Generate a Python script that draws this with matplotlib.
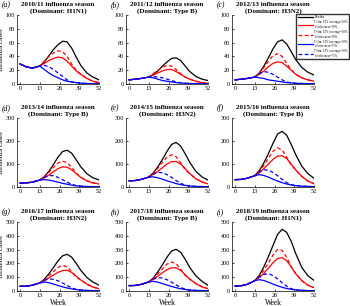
import matplotlib.pyplot as plt

plt.rcParams['font.family'] = ['Liberation Serif', 'DejaVu Serif']

weeks = [0, 4, 8, 13, 16, 19, 22, 25, 28, 31, 34, 37, 40, 44, 48, 52]

seasons = ["2010/11", "2011/12", "2012/13",
           "2013/14", "2014/15", "2015/16",
           "2016/17", "2017/18", "2018/19"]
dominants = ["H1N1", "Type B", "H3N2",
             "Type B", "H3N2", "Type B",
             "H3N2", "Type B", "H1N1"]
tags = ["(a)", "(b)", "(c)", "(d)", "(e)", "(f)", "(g)", "(h)", "(i)"]
row_ymax = [100, 300, 500]
row_ticks = [[0, 20, 40, 60, 80, 100], [0, 100, 200, 300], [0, 100, 200, 300, 400, 500]]

# baseline, all weeks
baseline = [
    [29, 25, 23, 26, 32, 41, 50, 57, 62, 61, 52, 39, 27, 16, 10, 6],
    [6, 7, 8, 10, 14, 19, 26, 32, 37, 38, 34, 26, 18, 11, 7, 5],
    [6, 7, 8, 10, 16, 26, 38, 51, 61, 64, 58, 47, 35, 24, 17, 13],
    [17, 18, 21, 30, 45, 68, 98, 130, 154, 160, 147, 118, 88, 58, 40, 31],
    [27, 28, 33, 43, 62, 88, 120, 155, 185, 194, 178, 144, 107, 68, 44, 30],
    [32, 33, 38, 49, 72, 105, 145, 190, 230, 242, 225, 185, 140, 90, 58, 38],
    [34, 35, 42, 58, 85, 125, 170, 218, 255, 266, 245, 200, 150, 98, 65, 42],
    [39, 40, 48, 65, 95, 140, 190, 245, 290, 302, 280, 230, 170, 110, 70, 42],
    [36, 38, 48, 75, 115, 175, 250, 330, 410, 447, 425, 360, 270, 170, 110, 77],
]
# interventions, from week 13 onwards
t2_eff50 = [
    [26, 30, 34, 37, 39, 38, 33, 26, 19, 14, 8, 4, 2],
    [10, 13, 16, 19, 21, 21, 18, 14, 10, 7, 4, 2, 1],
    [10, 14, 19, 25, 30, 32, 31, 26, 20, 14, 9, 6, 4],
    [30, 40, 52, 66, 80, 88, 86, 75, 58, 42, 27, 18, 13],
    [43, 55, 68, 84, 100, 110, 111, 100, 80, 58, 36, 22, 14],
    [49, 62, 80, 100, 120, 134, 136, 124, 100, 74, 46, 26, 14],
    [58, 75, 95, 115, 135, 148, 150, 135, 108, 80, 50, 28, 17],
    [65, 85, 108, 132, 155, 168, 168, 150, 118, 86, 54, 30, 17],
    [75, 98, 128, 165, 205, 235, 242, 220, 175, 125, 75, 42, 24],
]
t6_eff50 = [
    [26, 33, 40, 45, 48, 47, 40, 29, 20, 14, 8, 4, 2],
    [10, 15, 20, 24, 27, 26, 21, 15, 10, 7, 4, 2, 1],
    [10, 16, 24, 33, 41, 44, 40, 30, 21, 14, 9, 6, 4],
    [30, 45, 64, 85, 104, 112, 106, 85, 60, 42, 27, 18, 13],
    [43, 60, 82, 108, 130, 140, 132, 105, 75, 58, 36, 22, 14],
    [49, 68, 95, 125, 155, 170, 162, 130, 96, 74, 46, 26, 14],
    [58, 82, 110, 140, 170, 186, 175, 140, 100, 80, 50, 28, 17],
    [65, 92, 125, 160, 195, 210, 198, 158, 112, 86, 54, 30, 17],
    [75, 108, 150, 205, 260, 300, 295, 245, 175, 125, 75, 42, 24],
]
t2_eff75 = [
    [26, 21, 16, 12, 9, 6, 4, 3, 2, 1.2, 0.7, 0.4, 0.3],
    [10, 9, 7, 5, 4, 3, 2, 1.5, 1, 0.7, 0.4, 0.3, 0.2],
    [10, 9, 8, 6, 5, 4, 3, 2, 1.5, 1, 0.7, 0.5, 0.4],
    [30, 32, 30, 26, 21, 16, 12, 8, 5, 3.5, 2, 1.5, 1],
    [43, 44, 40, 34, 27, 21, 15, 10, 7, 4.5, 2.5, 1.8, 1.2],
    [49, 54, 50, 43, 34, 26, 19, 13, 9, 6, 3.5, 2.5, 1.5],
    [58, 65, 60, 50, 40, 30, 22, 15, 10, 7, 4, 3, 2],
    [65, 70, 64, 54, 43, 33, 24, 16, 11, 7, 4, 3, 2],
    [75, 82, 76, 64, 50, 38, 27, 18, 12, 8, 5, 3, 2],
]
t6_eff75 = [
    [26, 27, 25, 21, 16, 11, 6, 3, 2, 1.2, 0.7, 0.4, 0.3],
    [10, 11, 10, 9, 7, 5, 3, 1.8, 1, 0.7, 0.4, 0.3, 0.2],
    [10, 15, 18, 17, 14, 10, 6, 3, 1.8, 1, 0.7, 0.5, 0.4],
    [30, 42, 50, 49, 42, 32, 21, 12, 6, 3.5, 2, 1.5, 1],
    [43, 56, 64, 62, 54, 42, 28, 16, 8, 4.5, 2.5, 1.8, 1.2],
    [49, 65, 75, 73, 63, 49, 33, 19, 10, 6, 3.5, 2.5, 1.5],
    [58, 78, 87, 85, 74, 58, 40, 23, 12, 7, 4, 3, 2],
    [65, 86, 97, 94, 82, 64, 44, 26, 13, 7, 4, 3, 2],
    [75, 100, 120, 126, 112, 88, 60, 35, 17, 8, 5, 3, 2],
]

labels = ["Baseline",
          "T+2m; LTV coverage=10%\neffectiveness=50%",
          "T+6m; LTV coverage=10%\neffectiveness=50%",
          "T+2m; LTV coverage=10%\neffectiveness=75%",
          "T+6m; LTV coverage=10%\neffectiveness=75%"]

W, H = 350, 306
fig = plt.figure(figsize=(3.5, 3.06), dpi=100)

col_left = [17, 126, 232]
row_top = [15, 118, 222]
ax_w, ax_h = 82, 69

for i in range(9):
    r, c = divmod(i, 3)
    ax = fig.add_axes([col_left[c] / W, 1 - (row_top[r] + ax_h) / H, ax_w / W, ax_h / H])
    pre = baseline[i][:3]
    lines = []
    lines += ax.plot(weeks, baseline[i], color="black", lw=0.9)
    lines += ax.plot(weeks, pre + t2_eff50[i], color="red", lw=0.9)
    lines += ax.plot(weeks, pre + t6_eff50[i], color="red", lw=0.9, ls=(0, (3, 2)))
    lines += ax.plot(weeks, pre + t2_eff75[i], color="blue", lw=0.9)
    lines += ax.plot(weeks, pre + t6_eff75[i], color="blue", lw=0.9, ls=(0, (3, 2)))
    ax.set_xlim(-2, 52)
    ax.set_ylim(0, row_ymax[r])
    ax.set_xticks([0, 13, 26, 39, 52])
    ax.set_yticks(row_ticks[r])
    ax.tick_params(labelsize=4.5, direction="in", length=1.5, width=0.5, pad=1.5)
    for s in ["top", "right"]:
        ax.spines[s].set_visible(False)
    for s in ["left", "bottom"]:
        ax.spines[s].set_linewidth(0.5)
    ax.set_title(seasons[i] + " influenza season\n(Dominant: " + dominants[i] + ")",
                 fontsize=5, fontweight="bold", pad=2, linespacing=1.1)
    fig.text((col_left[c] - 15) / W, 1 - (row_top[r] - 10) / H, tags[i],
             fontsize=5.5, style="italic", ha="left", va="center")
    if c == 0:
        ax.set_ylabel("Influenza cases", fontsize=5, labelpad=1)
    if r == 2:
        ax.set_xlabel("Week", fontsize=5.5, labelpad=1)
    if i == 2:
        fig.legend(lines, labels, loc="upper right",
                   bbox_to_anchor=(349 / W, 1 - 14 / H), fontsize=2.2,
                   frameon=True, fancybox=False, edgecolor="black",
                   handlelength=5, borderpad=0.4, labelspacing=0.35,
                   handletextpad=0.5, borderaxespad=0)

fig.savefig("out.png", dpi=100)
